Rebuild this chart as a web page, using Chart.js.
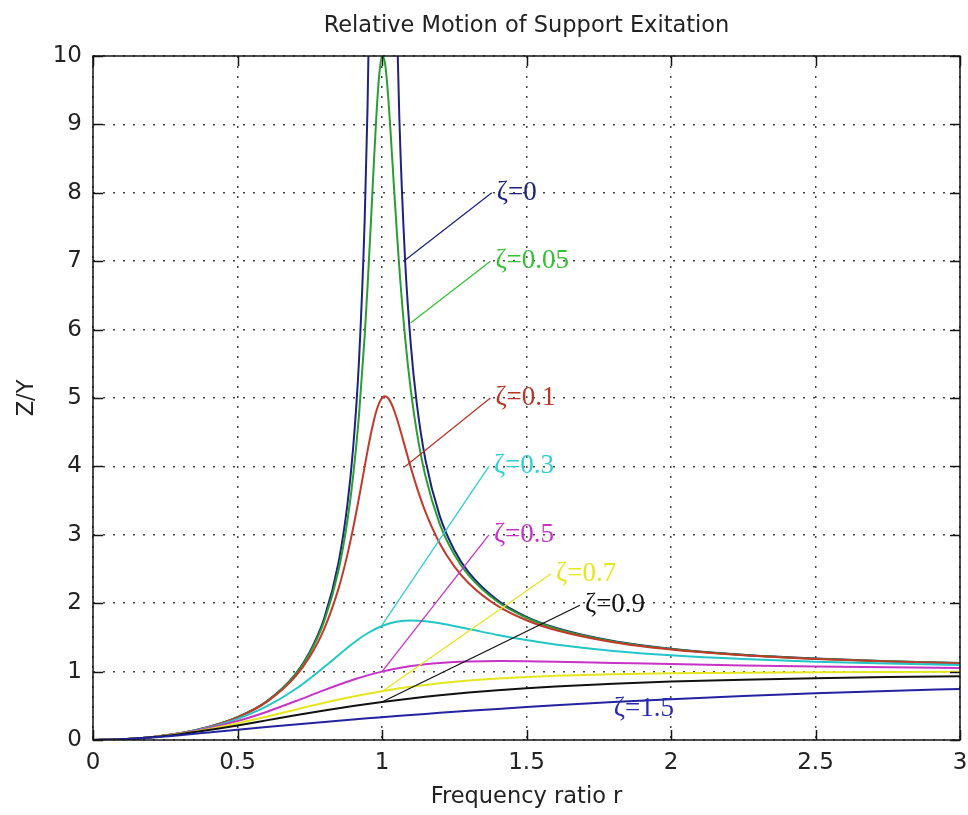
<!DOCTYPE html>
<html><head><meta charset="utf-8">
<script src="https://cdn.jsdelivr.net/npm/chart.js@4.4.1/dist/chart.umd.min.js"></script>
<style>html,body{margin:0;padding:0;background:#fff;}canvas{display:block;}</style>
</head><body>
<canvas id="c" width="968" height="815"></canvas>
<script>
// Frequency ratio samples (x values)
const ratioSharp = [0,0.1,0.2,0.3,0.4,0.5,0.6,0.7,0.75,0.8,0.85,0.88,0.9,0.92,0.94,0.95,0.96,0.97,0.98,0.99,1.0,1.01,1.02,1.03,1.04,1.05,1.06,1.08,1.1,1.12,1.15,1.2,1.25,1.3,1.4,1.5,1.6,1.8,2.0,2.25,2.5,2.75,3.0];
const ratioSmooth = [0,0.1,0.2,0.3,0.4,0.5,0.6,0.7,0.8,0.9,0.95,1.0,1.05,1.1,1.15,1.2,1.3,1.4,1.5,1.6,1.8,2.0,2.25,2.5,2.75,3.0];

// Z/Y values read for each damping ratio
const zeta0   = [0,0.0101,0.0417,0.0989,0.1905,0.3333,0.5625,0.9608,1.2857,1.7778,2.6036,3.4326,4.2632,5.5104,7.5911,9.2564,11.755,15.92,24.25,49.25,null,50.75,25.75,17.42,13.25,10.756,9.091,7.010,5.762,4.931,4.101,3.273,2.778,2.449,2.042,1.8,1.641,1.446,1.333,1.246,1.190,1.152,1.125];
const zeta005 = [0,0.0101,0.0417,0.0989,0.1903,0.3326,0.5600,0.9519,1.2672,1.7355,2.4894,3.1979,3.8528,4.7274,5.9056,6.6297,7.4354,8.2834,9.0861,9.7059,10.0,9.9058,9.4833,8.8660,8.1821,7.5133,6.9005,5.8797,5.1040,4.5129,3.8625,3.1574,2.7116,2.4069,2.0203,1.7872,1.6325,1.4418,1.3304,1.2443,1.1891,1.1514,1.1242];
const zeta01  = [0,0.0101,0.0416,0.0987,0.1896,0.3304,0.5529,0.9265,1.2162,1.6246,2.2201,2.7065,3.0948,3.5313,3.9961,4.2260,4.4438,4.6395,4.8029,4.9251,5.0,5.0252,5.0029,4.9386,4.8408,4.7180,4.5786,4.2779,3.9784,3.7007,3.3386,2.8731,2.5383,2.2920,1.96,1.7503,1.6076,1.4281,1.3217,1.2386,1.1851,1.1484,1.1219];
const zeta03  = [0,0.0101,0.0413,0.0970,0.1832,0.3095,0.4903,0.7417,1.0667,1.4150,1.5607,1.6667,1.7273,1.7470,1.7363,1.7066,1.6228,1.5365,1.4608,1.3976,1.3029,1.2380,1.1826,1.1447,1.1176,1.0976];
const zeta05  = [0,0.0101,0.0408,0.0939,0.1720,0.2774,0.4104,0.5658,0.7295,0.8806,0.9450,1.0,1.0450,1.0805,1.1073,1.1267,1.1483,1.1546,1.1523,1.1456,1.1275,1.1094,1.0901,1.0748,1.0629,1.0534];
const zeta07  = [0,0.0100,0.0400,0.0898,0.1585,0.2437,0.3409,0.4435,0.5440,0.6357,0.6768,0.7143,0.7482,0.7785,0.8054,0.8292,0.8683,0.8981,0.9207,0.9378,0.9610,0.9747,0.9848,0.9905,0.9940,0.9961];
const zeta09  = [0,0.0099,0.0390,0.0851,0.1446,0.2134,0.2868,0.3605,0.4312,0.4966,0.5269,0.5556,0.5825,0.6077,0.6313,0.6533,0.6927,0.7268,0.7562,0.7816,0.8226,0.8536,0.8825,0.9039,0.9200,0.9325];
const zeta15  = [0,0.0097,0.0353,0.0703,0.1092,0.1491,0.1884,0.2267,0.2637,0.2993,0.3165,0.3333,0.3498,0.3659,0.3817,0.3970,0.4267,0.4549,0.4818,0.5072,0.5542,0.5963,0.6426,0.6827,0.7174,0.7474];

// Curve labels and their annotation anchor points
const labelText = ['ζ=0','ζ=0.05','ζ=0.1','ζ=0.3','ζ=0.5','ζ=0.7','ζ=0.9','ζ=1.5'];
const labelX    = [1.38, 1.375, 1.375, 1.37, 1.37, 1.585, 1.685, 1.785];
const labelY    = [8.0, 7.0, 5.0, 4.0, 3.0, 2.43, 1.97, 0.46];
const pointerX  = [1.075, 1.10, 1.08, 1.0, 1.0, 1.0, 1.0, null];
const pointerY  = [7.0, 6.1, 4.0, 1.68, 1.0, 0.71, 0.555, null];

// Tick values
const xTickValues = [0,0.5,1,1.5,2,2.5,3];
const yTickValues = [0,1,2,3,4,5,6,7,8,9,10];

// Styles
const curveColors = ['#1f2380','#2a9e35','#c23b2a','#22c6c6','#c633c6','#e6e61e','#111111','#2323a0'];
const labelColors = ['#1f2380','#35c035','#b83528','#30d0d0','#c633c6','#e6e61e','#111111','#2a2ab0'];

const seriesX = [ratioSharp, ratioSharp, ratioSharp, ratioSmooth, ratioSmooth, ratioSmooth, ratioSmooth, ratioSmooth];
const seriesY = [zeta0, zeta005, zeta01, zeta03, zeta05, zeta07, zeta09, zeta15];

const toXY = (xs, ys) => xs.map((x, i) => ({x: x, y: ys[i]}));

const datasets = [];
seriesY.forEach((ys, i) => {
  datasets.push({
    label: labelText[i],
    data: toXY(seriesX[i], ys),
    borderColor: curveColors[i],
    backgroundColor: curveColors[i],
    borderWidth: 2,
    pointRadius: 0,
    fill: false,
    spanGaps: false,
    cubicInterpolationMode: 'monotone',
    order: 20 - i
  });
});
labelText.forEach((t, i) => {
  if (pointerX[i] === null) return;
  datasets.push({
    label: t + ' pointer',
    data: toXY([pointerX[i], labelX[i]], [pointerY[i], labelY[i]]),
    borderColor: labelColors[i],
    borderWidth: 1.3,
    pointRadius: 0,
    tension: 0,
    fill: false,
    order: 1
  });
});

const boxPlugin = {
  id: 'matlabBox',
  afterDatasetsDraw(chart) {
    const {ctx, chartArea: a, scales: {x, y}} = chart;
    ctx.save();
    ctx.strokeStyle = '#151515';
    ctx.lineWidth = 1.5;
    ctx.beginPath();
    x.ticks.forEach(t => {
      const px = Math.round(x.getPixelForValue(t.value)) + 0.5;
      ctx.moveTo(px, a.bottom); ctx.lineTo(px, a.bottom - 10);
      ctx.moveTo(px, a.top); ctx.lineTo(px, a.top + 10);
    });
    y.ticks.forEach(t => {
      const py = Math.round(y.getPixelForValue(t.value)) + 0.5;
      ctx.moveTo(a.left, py); ctx.lineTo(a.left + 10, py);
      ctx.moveTo(a.right, py); ctx.lineTo(a.right - 10, py);
    });
    ctx.stroke();
    ctx.strokeRect(a.left, a.top, a.right - a.left, a.bottom - a.top);
    ctx.restore();
  }
};

const labelPlugin = {
  id: 'zetaLabels',
  afterDatasetsDraw(chart) {
    const {ctx, scales: {x, y}} = chart;
    ctx.save();
    ctx.font = '27px "Liberation Serif", "DejaVu Serif", serif';
    ctx.textBaseline = 'middle';
    ctx.textAlign = 'left';
    labelText.forEach((t, i) => {
      ctx.fillStyle = labelColors[i];
      ctx.fillText(t, x.getPixelForValue(labelX[i]) + 5, y.getPixelForValue(labelY[i]));
    });
    ctx.restore();
  }
};

const sans = 'DejaVu Sans';
new Chart(document.getElementById('c'), {
  type: 'line',
  data: { datasets: datasets },
  options: {
    responsive: false,
    animation: false,
    devicePixelRatio: 1,
    events: [],
    layout: { padding: { left: 0, right: 8, top: 0, bottom: 0 } },
    plugins: {
      legend: { display: false },
      tooltip: { enabled: false },
      title: {
        display: true,
        text: 'Relative Motion of Support Exitation',
        fullSize: false,
        color: '#222',
        font: { family: sans, size: 22.5, weight: 'normal' },
        padding: { top: 13, bottom: 16 }
      }
    },
    scales: {
      x: {
        type: 'linear', min: 0, max: 3,
        afterBuildTicks: s => { s.ticks = xTickValues.map(v => ({value: v})); },
        afterFit: s => { s.height = 75; s.paddingLeft = 0; s.paddingRight = 0; },
        ticks: { color: '#222', font: { family: sans, size: 23 }, padding: 9, maxRotation: 0, autoSkip: false, callback: v => String(v) },
        grid: { color: 'rgba(35,35,35,0.85)', lineWidth: 1.5, drawTicks: false },
        border: { display: false, dash: [2, 8] },
        title: { display: true, text: 'Frequency ratio r', color: '#222', font: { family: sans, size: 22.5 }, padding: { top: 0, bottom: 4.5 } }
      },
      y: {
        type: 'linear', min: 0, max: 10,
        afterBuildTicks: s => { s.ticks = yTickValues.map(v => ({value: v})); },
        afterFit: s => { s.width = 93; s.paddingTop = 0; s.paddingBottom = 0; },
        ticks: { color: '#222', font: { family: sans, size: 23 }, padding: 11, autoSkip: false, callback: v => String(v) },
        grid: { color: 'rgba(35,35,35,0.85)', lineWidth: 1.5, drawTicks: false },
        border: { display: false, dash: [2, 8] },
        title: { display: true, text: 'Z/Y', color: '#222', font: { family: sans, size: 22.5 }, padding: { top: 13.5, bottom: 0 } }
      }
    }
  },
  plugins: [boxPlugin, labelPlugin]
});
</script>
</body></html>
